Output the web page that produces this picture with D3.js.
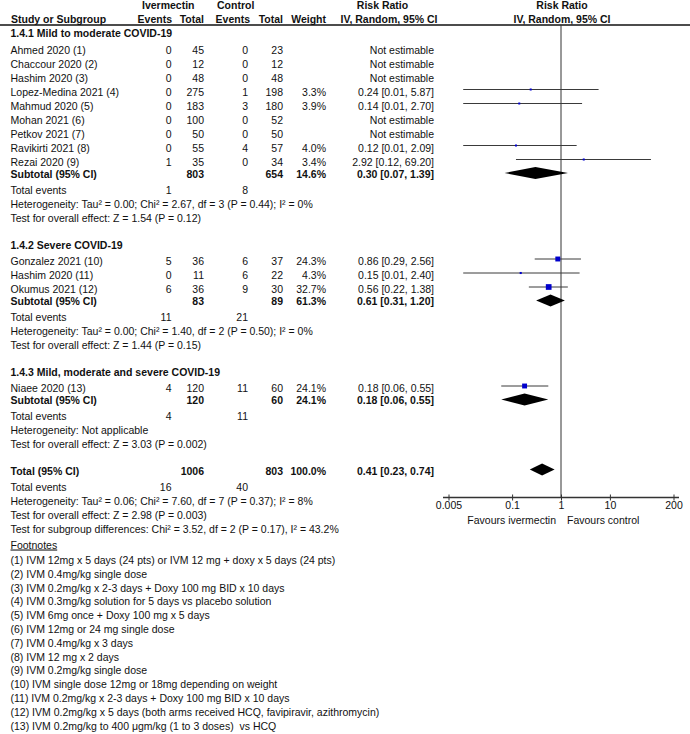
<!DOCTYPE html>
<html><head><meta charset="utf-8">
<script src="https://cdn.jsdelivr.net/npm/d3@7"></script>
<style>
body{margin:0;background:#fff}
text{font-family:"Liberation Sans",Arial,sans-serif;font-size:10.5px;fill:#111;white-space:pre}
.b{font-weight:bold}
</style>
</head><body><svg id="c" width="690" height="734"></svg>
<script>
// ---------- data ----------
const groupTitles = ["1.4.1 Mild to moderate COVID-19","1.4.2 Severe COVID-19","1.4.3 Mild, moderate and severe COVID-19"];
const studyNames = ["Ahmed 2020 (1)","Chaccour 2020 (2)","Hashim 2020 (3)","Lopez-Medina 2021 (4)","Mahmud 2020 (5)","Mohan 2021 (6)","Petkov 2021 (7)","Ravikirti 2021 (8)","Rezai 2020 (9)","Gonzalez 2021 (10)","Hashim 2020 (11)","Okumus 2021 (12)","Niaee 2020 (13)"];
const studyGroup = [0,0,0,0,0,0,0,0,0,1,1,1,2];
const ivmEvents = [0,0,0,0,0,0,0,0,1,5,0,6,4];
const ivmTotal  = [45,12,48,275,183,100,50,55,35,36,11,36,120];
const ctlEvents = [0,0,0,1,3,0,0,4,0,6,6,9,11];
const ctlTotal  = [23,12,48,198,180,52,50,57,34,37,22,30,60];
const weights   = [null,null,null,3.3,3.9,null,null,4.0,3.4,24.3,4.3,32.7,24.1];
const rr        = [null,null,null,0.24,0.14,null,null,0.12,2.92,0.86,0.15,0.56,0.18];
const rrLo      = [null,null,null,0.01,0.01,null,null,0.01,0.12,0.29,0.01,0.22,0.06];
const rrHi      = [null,null,null,5.87,2.70,null,null,2.09,69.20,2.56,2.40,1.38,0.55];

const subIvmTotal = [803,83,120];
const subCtlTotal = [654,89,60];
const subIvmEvents = [1,11,4];
const subCtlEvents = [8,21,11];
const subWeight = [14.6,61.3,24.1];
const subRR = [0.30,0.61,0.18];
const subLo = [0.07,0.31,0.06];
const subHi = [1.39,1.20,0.55];
const subHet = ["Heterogeneity: Tau² = 0.00; Chi² = 2.67, df = 3 (P = 0.44); I² = 0%",
                "Heterogeneity: Tau² = 0.00; Chi² = 1.40, df = 2 (P = 0.50); I² = 0%",
                "Heterogeneity: Not applicable"];
const subTest = ["Test for overall effect: Z = 1.54 (P = 0.12)",
                 "Test for overall effect: Z = 1.44 (P = 0.15)",
                 "Test for overall effect: Z = 3.03 (P = 0.002)"];

const totIvmTotal = 1006, totCtlTotal = 803, totWeight = 100.0;
const totRR = 0.41, totLo = 0.23, totHi = 0.74;
const totIvmEvents = 16, totCtlEvents = 40;
const totLines = ["Heterogeneity: Tau² = 0.06; Chi² = 7.60, df = 7 (P = 0.37); I² = 8%",
                  "Test for overall effect: Z = 2.98 (P = 0.003)",
                  "Test for subgroup differences: Chi² = 3.52, df = 2 (P = 0.17), I² = 43.2%"];

const tickVals = [0.005,0.1,1,10,200];
const tickLabels = ["0.005","0.1","1","10","200"];
const favLeft = "Favours ivermectin", favRight = "Favours control";

const footnotes = ["(1) IVM 12mg x 5 days (24 pts) or IVM 12 mg + doxy x 5 days (24 pts)",
"(2) IVM 0.4mg/kg single dose",
"(3) IVM 0.2mg/kg x 2-3 days + Doxy 100 mg BID x 10 days",
"(4) IVM 0.3mg/kg solution for 5 days vs placebo solution",
"(5) IVM 6mg once + Doxy 100 mg x 5 days",
"(6) IVM 12mg or 24 mg single dose",
"(7) IVM 0.4mg/kg x 3 days",
"(8) IVM 12 mg x 2 days",
"(9) IVM 0.2mg/kg single dose",
"(10) IVM single dose 12mg or 18mg depending on weight",
"(11) IVM 0.2mg/kg x 2-3 days + Doxy 100 mg BID x 10 days",
"(12) IVM 0.2mg/kg x 5 days (both arms received HCQ, favipiravir, azithromycin)",
"(13) IVM 0.2mg/kg to 400 μgm/kg (1 to 3 doses)  vs HCQ"];

// ---------- layout ----------
const svg = d3.select("#c");
const x = d3.scaleLog().domain([0.005,200]).range([448.5,673.5]);
const col = {name:10.5, ie:171.5, it:204, ce:248, ct:283, w:326, rr:434};
const fmt2 = d3.format(".2f");
const ciTxt = (r,l,h)=> `${fmt2(r)} [${fmt2(l)}, ${fmt2(h)}]`;
const CAP = 3.8;

function txt(xp, yp, s, anchor, bold, extra){
  const t = svg.append("text").attr("x",xp).attr("y",yp+CAP).attr("text-anchor",anchor||"start").text(s);
  if(bold) t.attr("class","b");
  return t;
}

// headers
txt(142,5.5,"Ivermectin","start",true);
txt(217,5.5,"Control","start",true);
txt(382.5,5.5,"Risk Ratio","middle",true);
txt(562,5.5,"Risk Ratio","middle",true);
txt(11,18.8,"Study or Subgroup","start",true);
txt(172,18.8,"Events","end",true);
txt(204,18.8,"Total","end",true);
txt(250,18.8,"Events","end",true);
txt(283,18.8,"Total","end",true);
txt(326,18.8,"Weight","end",true);
txt(389,18.8,"IV, Random, 95% CI","middle",true);
txt(562,18.8,"IV, Random, 95% CI","middle",true);
svg.append("line").attr("x1",0).attr("x2",690).attr("y1",25).attr("y2",25).attr("stroke","#111").attr("stroke-width",1.5);

// center vertical line
const axisY = 497.5;
svg.append("line").attr("x1",x(1)).attr("x2",x(1)).attr("y1",25).attr("y2",axisY).attr("stroke","#333").attr("stroke-width",1);

const titleY = [33.5,245,372];
const marks = svg.append("g");
function diamond(yc, r, l, h){
  marks.append("path").attr("d",
    `M${x(l)},${yc} L${x(r)},${yc-6} L${x(h)},${yc} L${x(r)},${yc+6} Z`).attr("fill","#000");
}

groupTitles.forEach((g,gi)=>{
  let y = titleY[gi];
  txt(col.name,y,g,"start",true);
  y += 16.5;
  const idx = studyGroup.map((v,i)=>v===gi?i:-1).filter(i=>i>=0);
  idx.forEach((i,k)=>{
    if(k>0) y += 14;
    txt(col.name,y,studyNames[i]);
    txt(col.ie,y,String(ivmEvents[i]),"end");
    txt(col.it,y,String(ivmTotal[i]),"end");
    txt(col.ce,y,String(ctlEvents[i]),"end");
    txt(col.ct,y,String(ctlTotal[i]),"end");
    if(weights[i]!=null){
      txt(col.w,y,weights[i].toFixed(1)+"%","end");
      txt(col.rr,y,ciTxt(rr[i],rrLo[i],rrHi[i]),"end");
      const yc = y-2.5;
      marks.append("line").attr("x1",x(rrLo[i])).attr("x2",x(rrHi[i])).attr("y1",yc).attr("y2",yc)
        .attr("stroke","#3a3a3a").attr("stroke-width",1);
      const s = Math.max(2,Math.sqrt(weights[i]));
      marks.append("rect").attr("x",x(rr[i])-s/2).attr("y",yc-s/2).attr("width",s).attr("height",s).attr("fill","#0000cc");
    } else {
      txt(col.rr,y,"Not estimable","end");
    }
  });
  y += 12;
  txt(col.name,y,"Subtotal (95% CI)","start",true);
  txt(col.it,y,String(subIvmTotal[gi]),"end",true);
  txt(col.ct,y,String(subCtlTotal[gi]),"end",true);
  txt(col.w,y,subWeight[gi].toFixed(1)+"%","end",true);
  txt(col.rr,y,ciTxt(subRR[gi],subLo[gi],subHi[gi]),"end",true);
  diamond(y-1,subRR[gi],subLo[gi],subHi[gi]);
  y += 16;
  txt(col.name,y,"Total events");
  txt(col.ie,y,String(subIvmEvents[gi]),"end");
  txt(col.ce,y,String(subCtlEvents[gi]),"end");
  y += 14;
  txt(col.name,y,subHet[gi]);
  y += 14;
  txt(col.name,y,subTest[gi]);
});

// overall
let ty = 471;
txt(col.name,ty,"Total (95% CI)","start",true);
txt(col.it,ty,String(totIvmTotal),"end",true);
txt(col.ct,ty,String(totCtlTotal),"end",true);
txt(col.w,ty,totWeight.toFixed(1)+"%","end",true);
txt(col.rr,ty,ciTxt(totRR,totLo,totHi),"end",true);
diamond(ty-1.5,totRR,totLo,totHi);
ty += 16;
txt(col.name,ty,"Total events");
txt(col.ie,ty,String(totIvmEvents),"end");
txt(col.ce,ty,String(totCtlEvents),"end");
totLines.forEach(s=>{ ty += 13.9; txt(col.name,ty,s); });
ty += 16;
txt(col.name,ty,"Footnotes").style("text-decoration","underline");
ty += 15.5;
footnotes.forEach((s,i)=>{ txt(col.name,ty+i*13.8,s); });

// axis
const ax = svg.append("g").attr("transform",`translate(0,${axisY})`)
  .call(d3.axisBottom(x).tickValues(tickVals).tickFormat((d,i)=>tickLabels[i]).tickSize(3).tickSizeOuter(0).tickPadding(1.5));
ax.select(".domain").remove();
ax.selectAll(".tick line").attr("y1",-3).attr("y2",3).attr("stroke","#333");
ax.selectAll(".tick text").attr("font-family",null).attr("font-size",null).attr("fill","#111");
ax.attr("font-family",null).attr("font-size",null);
ax.append("line").attr("x1",x(0.005)-5.5).attr("x2",x(200)+5.5).attr("y1",0).attr("y2",0).attr("stroke","#333").attr("stroke-width",1.3);
txt(x(1)-5,axisY+22.5,favLeft,"end");
txt(x(1)+6,axisY+22.5,favRight,"start");
</script></body></html>
